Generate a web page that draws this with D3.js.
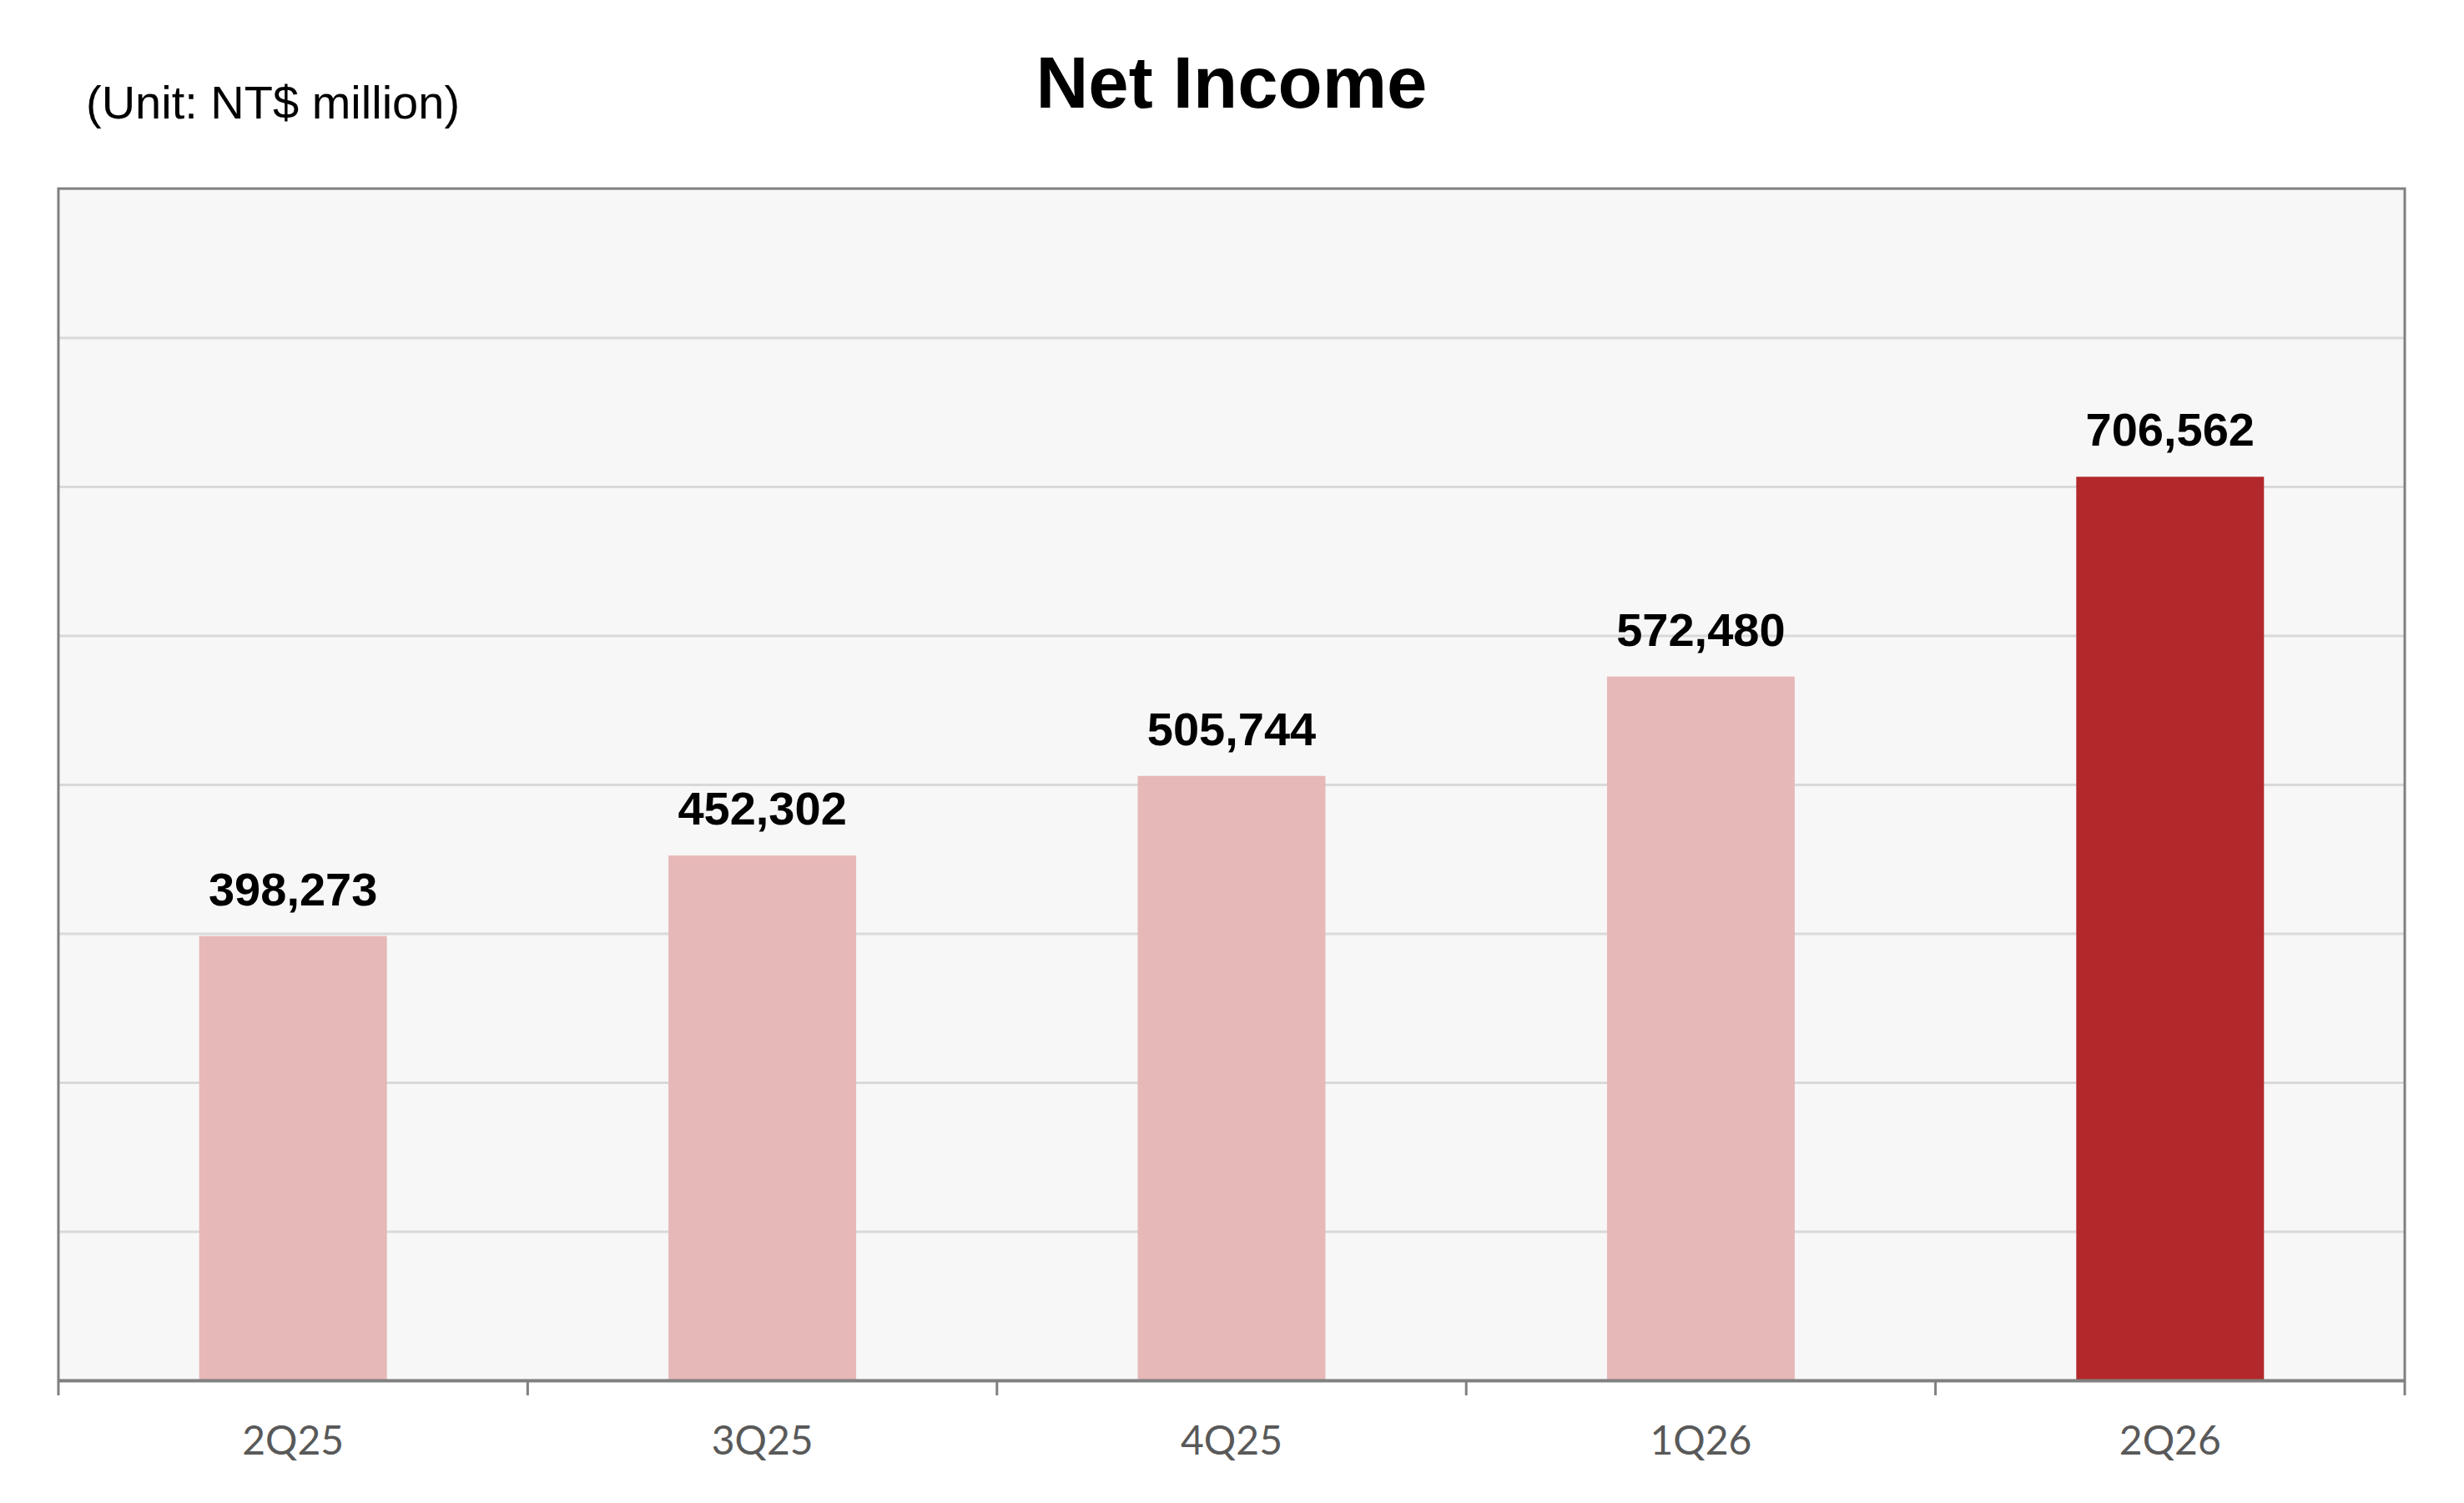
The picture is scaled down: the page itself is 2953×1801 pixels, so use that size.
<!DOCTYPE html>
<html>
<head>
<meta charset="utf-8">
<script src="https://cdn.jsdelivr.net/npm/d3@7"></script>
<style>
  body { margin: 0; background: #fff; }
</style>
</head>
<body>
<svg id="chart"></svg>
<script>
// quarters and net income, NT$ million
const quarters = ["2Q25", "3Q25", "4Q25", "1Q26", "2Q26"];
const netIncome = [398273, 452302, 505744, 572480, 706562];
const highlight = "2Q26";
const gridValues = [200000, 300000, 400000, 500000, 600000, 700000, 800000];

const width = 2953, height = 1801;
const margin = { top: 226, right: 71, bottom: 147, left: 70 };

const svg = d3.select("#chart")
  .attr("width", width)
  .attr("height", height);

const chartData = quarters.map((q, i) => ({ q, v: netIncome[i] }));

const x = d3.scaleBand()
  .domain(quarters)
  .range([margin.left, width - margin.right])
  .paddingInner(0.6)
  .paddingOuter(0.3);

const y = d3.scaleLinear()
  .domain([100000, 900000])
  .range([height - margin.bottom, margin.top]);

// plot background
svg.append("rect")
  .attr("x", margin.left)
  .attr("y", margin.top)
  .attr("width", width - margin.left - margin.right)
  .attr("height", height - margin.top - margin.bottom)
  .attr("fill", "#f7f7f7");

// gridlines, no labels
const grid = svg.append("g")
  .attr("transform", `translate(${margin.left},0)`)
  .call(d3.axisLeft(y)
    .tickValues(gridValues)
    .tickSize(-(width - margin.left - margin.right))
    .tickFormat(""));
grid.select(".domain").remove();
grid.selectAll("line")
  .attr("stroke", "#d9d9d9")
  .attr("stroke-width", 3);

// bars
svg.selectAll("rect.bar")
  .data(chartData)
  .enter()
  .append("rect")
  .attr("class", "bar")
  .attr("x", d => x(d.q))
  .attr("y", d => y(d.v))
  .attr("width", x.bandwidth())
  .attr("height", d => y(y.domain()[0]) - y(d.v))
  .attr("fill", d => d.q === highlight ? "#b3282a" : "#e6b8b7");

// value labels
svg.selectAll("text.value")
  .data(chartData)
  .enter()
  .append("text")
  .attr("class", "value")
  .attr("x", d => x(d.q) + x.bandwidth() / 2)
  .attr("y", d => y(d.v) - 37)
  .attr("text-anchor", "middle")
  .style("font-family", "'Liberation Sans', Arial, sans-serif")
  .style("font-weight", "bold")
  .style("font-size", "56px")
  .attr("fill", "#000")
  .text(d => d3.format(",")(d.v));

// frame: top, left, right
const x0 = margin.left, x1 = width - margin.right;
const yTop = margin.top, yBot = height - margin.bottom;
svg.append("path")
  .attr("d", `M${x0},${yBot}V${yTop}H${x1}V${yBot}`)
  .attr("fill", "none")
  .attr("stroke", "#808080")
  .attr("stroke-width", 3);

// x axis
const xAxis = svg.append("g")
  .attr("transform", `translate(0,${yBot})`)
  .call(d3.axisBottom(x).tickSize(0).tickPadding(55));
xAxis.select(".domain")
  .attr("stroke", "#808080")
  .attr("stroke-width", 4);
xAxis.selectAll("text")
  .style("font-family", "Lato, 'Open Sans', sans-serif")
  .style("font-size", "48px")
  .attr("fill", "#595959");

// category boundary ticks
const bounds = quarters.map(q => x(q) - x.step() * x.paddingOuter())
  .concat([x1]);
xAxis.selectAll("line.sep")
  .data(bounds)
  .enter()
  .append("line")
  .attr("class", "sep")
  .attr("x1", d => d)
  .attr("x2", d => d)
  .attr("y1", 0)
  .attr("y2", 18)
  .attr("stroke", "#808080")
  .attr("stroke-width", 3);

// title and unit
svg.append("text")
  .attr("x", (x0 + x1) / 2)
  .attr("y", 129)
  .attr("text-anchor", "middle")
  .style("font-family", "'Liberation Sans', Arial, sans-serif")
  .style("font-weight", "bold")
  .style("font-size", "87px")
  .text("Net Income");

svg.append("text")
  .attr("x", 103)
  .attr("y", 142)
  .style("font-family", "'Liberation Sans', Arial, sans-serif")
  .style("font-size", "56px")
  .text("(Unit: NT$ million)");
</script>
</body>
</html>
